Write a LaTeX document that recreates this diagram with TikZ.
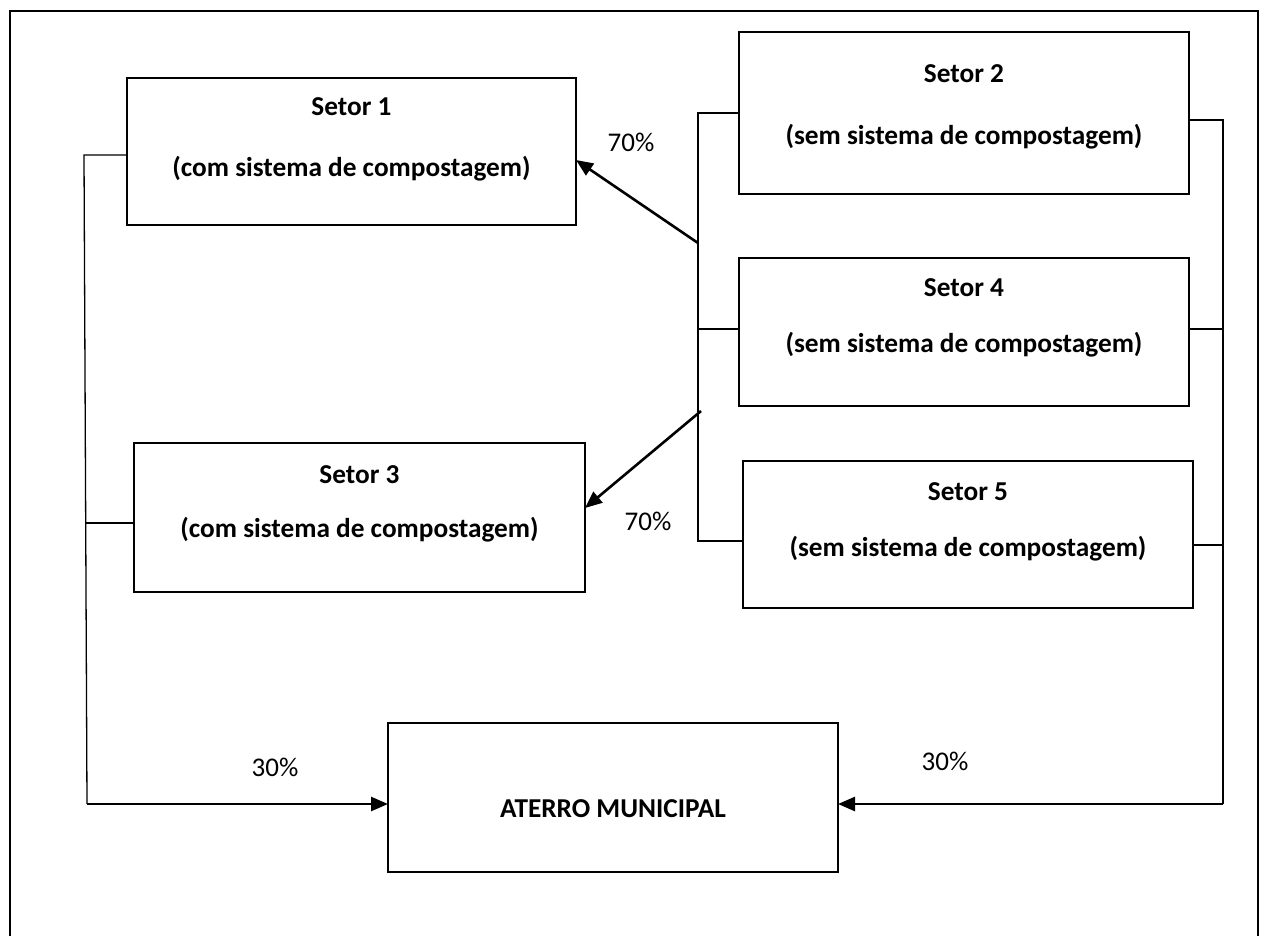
\documentclass[tikz,border=0pt]{standalone}
\usepackage{fontspec}
\setmainfont{Carlito}
\usetikzlibrary{arrows.meta}
\begin{document}
\begin{tikzpicture}[x=1pt,y=-1pt,
  box/.style={draw=black,line width=1.3pt,inner sep=0pt,outer sep=0pt},
  ttl/.style={font=\fontsize{27.3}{30}\selectfont\bfseries,anchor=base,inner sep=0pt},
  pct/.style={font=\fontsize{27}{30}\selectfont,inner sep=0pt},
  thin/.style={draw=black,line width=1.3pt},
  flow/.style={draw=black,line width=2.6pt,-{Triangle[length=17pt,width=14pt]}},
  frame/.style={draw=black,line width=2.6pt}]
\useasboundingbox (0,0) rectangle (1263,935);
% outer frame
\draw[frame] (10,940) -- (10,11) -- (1258,11) -- (1258,940);
% boxes
\node[box,minimum width=449pt,minimum height=147pt] (s1) at (351.5,151.5) {};
\node[box,minimum width=450pt,minimum height=162pt] (s2) at (964,113) {};
\node[box,minimum width=450pt,minimum height=148pt] (s4) at (964,332) {};
\node[box,minimum width=450pt,minimum height=147pt] (s5) at (968,534.5) {};
\node[box,minimum width=451pt,minimum height=149pt] (s3) at (359.5,517.5) {};
\node[box,minimum width=450pt,minimum height=149pt] (at) at (613,797.5) {};
% texts
\node[ttl] (s1a) at (351.5,115) {Setor 1};
\node[ttl] (s1b) at (351.5,176) {(com sistema de compostagem)};
\node[ttl] (s2a) at (964,82) {Setor 2};
\node[ttl] (s2b) at (964,144) {(sem sistema de compostagem)};
\node[ttl] (s4a) at (964,296) {Setor 4};
\node[ttl] (s4b) at (964,352) {(sem sistema de compostagem)};
\node[ttl] (s5a) at (968,500) {Setor 5};
\node[ttl] (s5b) at (968,556) {(sem sistema de compostagem)};
\node[ttl] (s3a) at (359.5,483) {Setor 3};
\node[ttl] (s3b) at (359.5,537) {(com sistema de compostagem)};
\node[ttl] (ata) at (613,817) {ATERRO MUNICIPAL};
% percentage labels
\node[pct] (p1) at (631,142) {70\%};
\node[pct] (p2) at (648,521) {70\%};
\node[pct] (p3) at (275,767) {30\%};
\node[pct] (p4) at (945,761) {30\%};
% bus coordinates
\coordinate (lt) at (84,155);
\coordinate (l3) at (86,523);
\coordinate (lb) at (87,804);
\coordinate (mt) at (698,113);
\coordinate (m4) at (698,329);
\coordinate (mb) at (698,541);
\coordinate (ma1) at (698,243);
\coordinate (ma2) at (701,411);
\coordinate (rt) at (1223,120);
\coordinate (r4) at (1223,329);
\coordinate (r5) at (1223,545);
\coordinate (rb) at (1223,804);
% left bus
\draw[thin] (s1.west |- lt) -- (lt) -- (lb);
\draw[thin] (s3.west |- l3) -- (l3);
% middle bus
\draw[thin] (s2.west |- mt) -- (mt) -- (mb) -- (s5.west |- mb);
\draw[thin] (m4) -- (s4.west |- m4);
% right bus
\draw[thin] (s2.east |- rt) -- (rt) -- (rb);
\draw[thin] (s4.east |- r4) -- (r4);
\draw[thin] (s5.east |- r5) -- (r5);
% flows
\draw[flow] (ma1) -- (s1.east |- 0,160);
\draw[flow] (ma2) -- (s3.east |- 0,508);
\draw[flow] (lb) -- (at.west |- lb);
\draw[flow] (rb) -- (at.east |- rb);
\end{tikzpicture}
\end{document}
